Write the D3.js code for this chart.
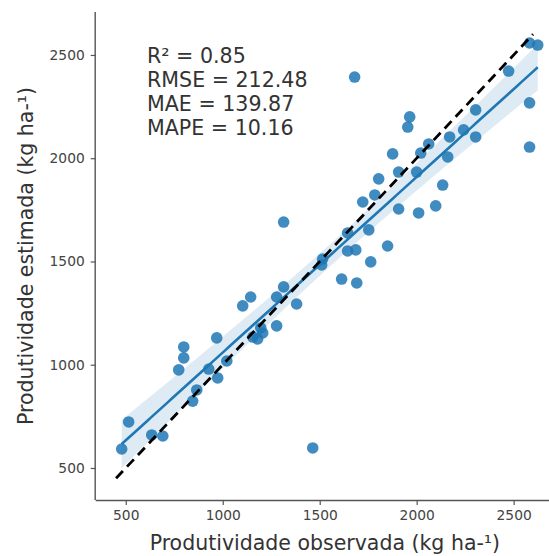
<!DOCTYPE html>
<html>
<head>
<meta charset="utf-8">
<script src="https://cdn.jsdelivr.net/npm/d3@7"></script>
<style>
  html, body { margin: 0; padding: 0; background: #fff; }
  svg { display: block; font-family: "DejaVu Sans", sans-serif; }
</style>
</head>
<body>
<svg id="chart" width="549" height="556"></svg>
<script>
// ---- data ----
const observed = [2582, 2624, 2474, 2582, 2582, 2304, 2304, 2242, 2170, 2160,
  2062, 2021, 1964, 1954, 1876, 1907, 2000, 1804, 2134, 1784,
  1722, 1907, 2010, 2098, 1644, 1753, 1644, 1686, 1850, 1515,
  1510, 1763, 1613, 1691, 1381, 1680, 1314, 1314, 1278, 1144,
  1103, 1278, 1155, 1180, 1206, 1196, 969, 799, 799, 773,
  1021, 928, 974, 866, 845, 515, 634, 691, 479, 1464];
const estimated = [2558, 2548, 2422, 2268, 2054, 2234, 2103, 2137, 2103, 2006,
  2069, 2025, 2200, 2151, 2021, 1933, 1933, 1900, 1870, 1822,
  1788, 1754, 1735, 1769, 1638, 1653, 1551, 1556, 1575, 1512,
  1483, 1498, 1415, 1396, 1294, 2393, 1691, 1377, 1328, 1328,
  1285, 1188, 1134, 1125, 1154, 1178, 1130, 1086, 1033, 975,
  1018, 979, 936, 878, 824, 723, 660, 655, 592, 597];
const xTickValues = [500, 1000, 1500, 2000, 2500];
const yTickValues = [500, 1000, 1500, 2000, 2500];
const metricLines = ["R\u00B2 = 0.85", "RMSE = 212.48", "MAE = 139.87", "MAPE = 10.16"];
const identityRange = [450, 2600];
const axisDomain = [345, 2708];
const xLabel = "Produtividade observada (kg ha-\u00B9)";
const yLabel = "Produtividade estimada (kg ha-\u00B9)";

// ---- layout ----
const mLeft = 95.7, mRight = 554, mTop = 12, mBottom = 500;
const svg = d3.select("#chart");
const x = d3.scaleLinear().domain(axisDomain).range([mLeft, mRight]);
const y = d3.scaleLinear().domain(axisDomain).range([mBottom, mTop]);
const blue = "#1f77b4";

// ---- regression (OLS) with 95% CI ----
const pts = observed.map((o, i) => ({ o, e: estimated[i] }));
const n = pts.length;
const xm = d3.mean(observed), ym = d3.mean(estimated);
const sxx = d3.sum(observed, v => (v - xm) ** 2);
const sxy = d3.sum(pts, p => (p.o - xm) * (p.e - ym));
const slope = sxy / sxx, intercept = ym - slope * xm;
const resid = d3.sum(pts, p => (p.e - (intercept + slope * p.o)) ** 2);
const sres = Math.sqrt(resid / (n - 2));
const tval = 2.0;
const [xmin, xmax] = d3.extent(observed);
const grid = d3.range(0, 101).map(i => xmin + (xmax - xmin) * i / 100);
const band = grid.map(g => {
  const fit = intercept + slope * g;
  const se = sres * Math.sqrt(1 / n + (g - xm) ** 2 / sxx);
  return { g, fit, lo: fit - tval * se, hi: fit + tval * se };
});

// points
svg.append("g").selectAll("circle").data(pts).join("circle")
  .attr("cx", d => x(d.o)).attr("cy", d => y(d.e)).attr("r", 5.8)
  .attr("fill", blue).attr("fill-opacity", 0.85);

// CI band
svg.append("path").datum(band)
  .attr("d", d3.area().x(d => x(d.g)).y0(d => y(d.lo)).y1(d => y(d.hi)))
  .attr("fill", blue).attr("fill-opacity", 0.15);

// regression line
svg.append("path").datum(band)
  .attr("d", d3.line().x(d => x(d.g)).y(d => y(d.fit)))
  .attr("fill", "none").attr("stroke", blue).attr("stroke-width", 2.6);

// 1:1 dashed line
svg.append("path").datum(identityRange)
  .attr("d", d3.line().x(d => x(d)).y(d => y(d)))
  .attr("fill", "none").attr("stroke", "#000").attr("stroke-width", 2.8)
  .attr("stroke-dasharray", "10,6");

// axes
const xAxis = svg.append("g").attr("transform", `translate(0,${mBottom})`)
  .call(d3.axisBottom(x).tickValues(xTickValues).tickFormat(d3.format("d")).tickSize(5).tickPadding(5));
const yAxis = svg.append("g").attr("transform", `translate(${mLeft},0)`)
  .call(d3.axisLeft(y).tickValues(yTickValues).tickFormat(d3.format("d")).tickSize(5).tickPadding(6));
[xAxis, yAxis].forEach(a => {
  a.select(".domain").attr("stroke", "#555").attr("stroke-width", 1.4);
  a.selectAll(".tick line").attr("stroke", "#555").attr("stroke-width", 1.2);
  a.selectAll(".tick text").attr("fill", "#444")
    .style("font-family", "DejaVu Sans, sans-serif").style("font-size", "13.8px");
});
xAxis.select(".domain").attr("d", `M${mLeft},0.5H${mRight}`);
yAxis.select(".domain").attr("d", `M-0.5,${mTop}V${mBottom}`);

// metrics text
svg.append("g").selectAll("text").data(metricLines).join("text")
  .attr("x", 147).attr("y", (d, i) => 63 + i * 24)
  .attr("fill", "#333").style("font-size", "20.6px")
  .text(d => d);

// axis labels
svg.append("text").attr("x", (mLeft + mRight) / 2).attr("y", 550)
  .attr("text-anchor", "middle").attr("fill", "#333").style("font-size", "20.5px")
  .text(xLabel);
svg.append("text").attr("transform", `translate(33,${(mTop + mBottom) / 2}) rotate(-90)`)
  .attr("text-anchor", "middle").attr("fill", "#333").style("font-size", "20.5px")
  .text(yLabel);
</script>
</body>
</html>
